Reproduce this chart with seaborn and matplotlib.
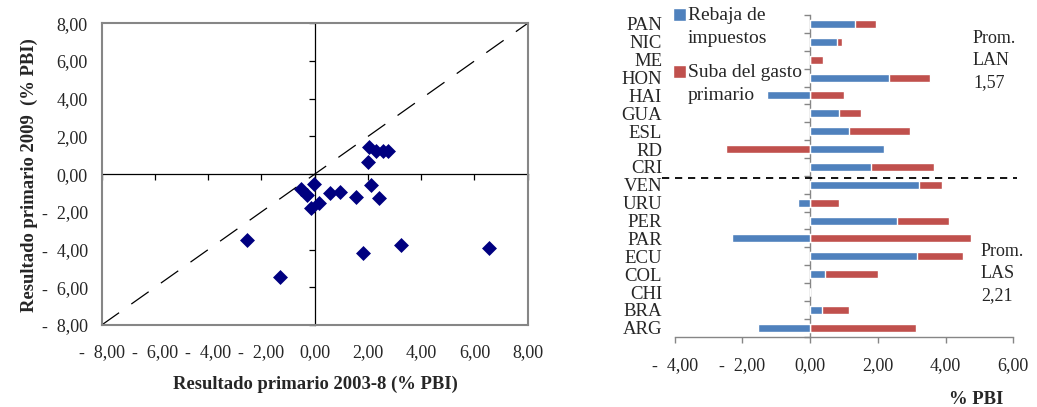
import numpy as np
import pandas as pd
import matplotlib
matplotlib.use("Agg")
import matplotlib.pyplot as plt
from matplotlib.patches import Patch
from matplotlib.ticker import FuncFormatter, NullFormatter
import seaborn as sns

# -----------------------------
# DATA
# -----------------------------
# scatter: resultado primario 2003-8 vs 2009 (% PBI)
res_2003_8 = [2.02, 2.30, 2.58, 2.77, 1.99, 2.10, 2.43, 1.55, 0.95, 0.58,
              -0.01, -0.53, -0.28, -0.15, 0.17, -2.53, -1.30, 1.80, 3.23, 6.56]
res_2009 = [1.45, 1.24, 1.24, 1.24, 0.65, -0.58, -1.29, -1.22, -0.94, -0.99,
            -0.53, -0.80, -1.11, -1.77, -1.54, -3.50, -5.44, -4.17, -3.76, -3.90]

# bars: decomposicion del impulso fiscal
paises = ["PAN", "NIC", "ME", "HON", "HAI", "GUA", "ESL", "RD", "CRI",
          "VEN", "URU", "PER", "PAR", "ECU", "COL", "CHI", "BRA", "ARG"]
rebaja_impuestos = [1.32, 0.79, 0.0, 2.34, -1.28, 0.85, 1.14, 2.17, 1.79,
                    3.23, -0.36, 2.56, -2.31, 3.17, 0.45, 0.0, 0.34, -1.55]
suba_gasto = [0.64, 0.14, 0.37, 1.19, 1.01, 0.65, 1.80, -2.49, 1.86,
              0.66, 0.85, 1.55, 4.74, 1.34, 1.57, 0.0, 0.80, 3.12]

axis_ticks = [-8, -6, -4, -2, 0, 2, 4, 6, 8]
bar_ticks = [-4, -2, 0, 2, 4, 6]

BLUE = "#4F81BD"
RED = "#C0504D"
NAVY = "#000080"
GRAY = "#868686"

sns.set_style("white")
plt.rcParams["font.family"] = ["Liberation Serif", "DejaVu Serif"]


def fmt(v, pos=None):
    s = f"{abs(v):.2f}".replace(".", ",")
    return f"-  {s}" if v < 0 else s


fig = plt.figure(figsize=(10.37, 4.07), dpi=100)

# -----------------------------
# LEFT: SCATTER
# -----------------------------
ax1 = fig.add_axes([0.0981, 0.2015, 0.4108, 0.7413])
sns.scatterplot(x=res_2003_8, y=res_2009, marker="D", color=NAVY, s=58,
                edgecolor=NAVY, linewidth=0, ax=ax1, zorder=4)
ax1.axline((0, 0), slope=1, color="black", lw=0.9, dashes=(17, 12), zorder=2)
ax1.set_xlim(-8, 8)
ax1.set_ylim(-8, 8)
ax1.set_xticks(axis_ticks)
ax1.set_yticks(axis_ticks)
ax1.xaxis.set_major_formatter(FuncFormatter(fmt))
ax1.yaxis.set_major_formatter(FuncFormatter(fmt))
ax1.tick_params(axis="x", length=0, pad=13.5, labelsize=13)
ax1.tick_params(axis="y", length=0, pad=10, labelsize=13)
for sp in ax1.spines.values():
    sp.set_visible(True)
    sp.set_color(GRAY)
    sp.set_linewidth(1.5)

# axes crossing at zero
sx = ax1.secondary_xaxis(0.5)
sx.set_xticks(axis_ticks)
sx.xaxis.set_major_formatter(NullFormatter())
sx.tick_params(direction="in", length=4.5, width=0.9, color="black")
for sp in sx.spines.values():
    sp.set_color("black")
    sp.set_linewidth(0.9)

sy = ax1.secondary_yaxis(0.5)
sy.set_yticks(axis_ticks)
sy.yaxis.set_major_formatter(NullFormatter())
sy.tick_params(direction="in", length=4.5, width=0.9, color="black")
for sp in sy.spines.values():
    sp.set_color("black")
    sp.set_linewidth(0.9)

fig.text(29 / 1037, 1 - 175 / 407, "Resultado primario 2009  (% PBI)",
         rotation=90, ha="center", va="center", fontsize=13.4, fontweight="bold")
fig.text(315 / 1037, 1 - 384 / 407, "Resultado primario 2003-8 (% PBI)",
         ha="center", va="center", fontsize=13.4, fontweight="bold")

# -----------------------------
# RIGHT: STACKED BARS
# -----------------------------
blue = np.array(rebaja_impuestos)
red = np.array(suba_gasto)
# excel stacks positives and negatives separately
red_end = np.where(np.sign(blue) == np.sign(red), blue + red, red)

df = pd.DataFrame({"pais": paises, "rebaja": blue, "gasto_end": red_end})

ax2 = fig.add_axes([0.6506, 0.1727, 0.3265, 0.7904])
sns.barplot(data=df, x="gasto_end", y="pais", order=paises, color=RED,
            saturation=1, width=0.45, orient="h", ax=ax2, zorder=2)
sns.barplot(data=df, x="rebaja", y="pais", order=paises, color=BLUE,
            saturation=1, width=0.45, orient="h", ax=ax2, zorder=3)
ax2.set_xlim(-4, 6)
ax2.set_ylim(len(paises) - 0.5, -0.5)
ax2.set_xticks(bar_ticks)
ax2.xaxis.set_major_formatter(FuncFormatter(fmt))
ax2.set_xlabel("")
ax2.set_ylabel("")
ax2.tick_params(axis="x", bottom=True, direction="out", length=4.5, width=1,
                color=GRAY, pad=10, labelsize=13)
ax2.tick_params(axis="y", length=0, pad=9, labelsize=13.5)
for name, sp in ax2.spines.items():
    sp.set_visible(name == "bottom")
ax2.spines["bottom"].set_color(GRAY)
ax2.spines["bottom"].set_linewidth(1)

# vertical axis at zero with category boundary ticks
sy2 = ax2.secondary_yaxis(0.4)
sy2.set_yticks(np.arange(-0.5, len(paises), 1))
sy2.yaxis.set_major_formatter(NullFormatter())
sy2.tick_params(direction="out", length=4.5, width=1, color=GRAY)
for sp in sy2.spines.values():
    sp.set_color(GRAY)
    sp.set_linewidth(1)

# separation LAN / LAS
ax2.axhline(8.6, xmin=-0.038, xmax=1.012, color="black", lw=1.3,
            dashes=(4, 3.2), clip_on=False, zorder=5)

fig.text(973 / 1037, 1 - 30 / 407, "Prom.\nLAN\n1,57", ha="left", va="top",
         fontsize=13, linespacing=1.38)
fig.text(981 / 1037, 1 - 243 / 407, "Prom.\nLAS\n2,21", ha="left", va="top",
         fontsize=13, linespacing=1.38)

handles = [Patch(facecolor=BLUE), Patch(facecolor=RED)]
leg = fig.legend(handles, ["Rebaja de\nimpuestos", "Suba del gasto\nprimario"],
                 loc="upper left", bbox_to_anchor=(673 / 1037, 1 - 7 / 407),
                 frameon=False, borderpad=0, borderaxespad=0,
                 handlelength=0.65, handleheight=0.65, handletextpad=0.1,
                 labelspacing=0.85, fontsize=14)
for t in leg.get_texts():
    t.set_linespacing(1.48)
# put the squares next to the first line, as in the original
for h in leg.legend_handles:
    h.set_y(h.get_y() + 9)

fig.text(976 / 1037, 1 - 399 / 407, "% PBI", ha="center", va="center",
         fontsize=13.4, fontweight="bold")

plt.savefig("out.png", dpi=100)
